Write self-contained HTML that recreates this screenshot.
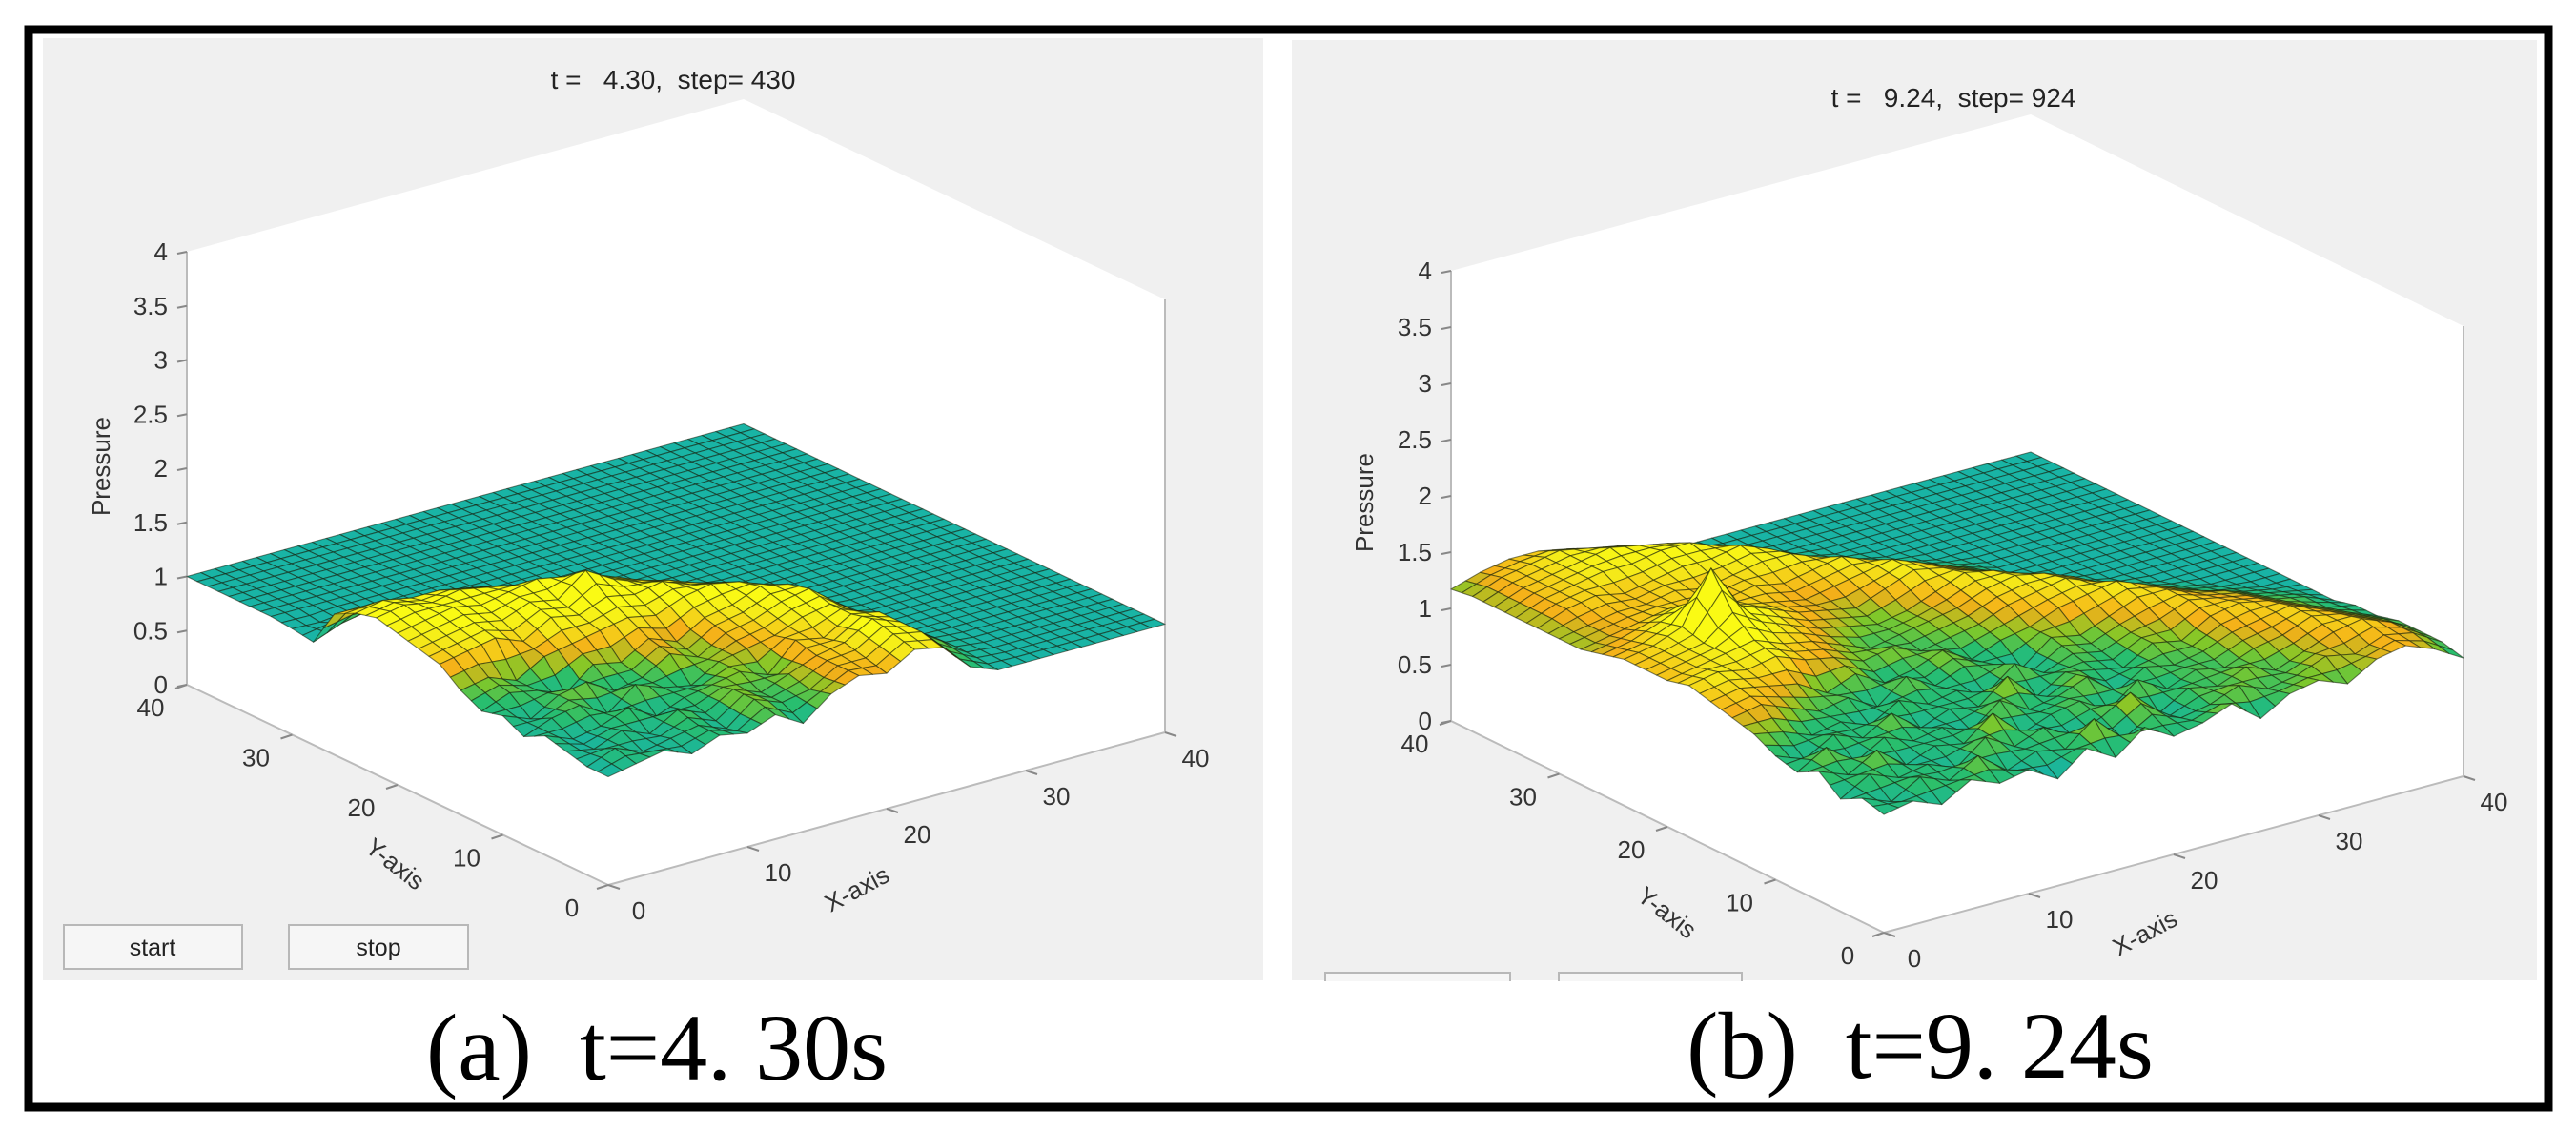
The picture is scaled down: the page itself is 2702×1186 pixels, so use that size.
<!DOCTYPE html>
<html><head><meta charset="utf-8"><style>
html,body{margin:0;padding:0;background:#fff;}
svg{display:block;font-family:"Liberation Sans",sans-serif;}
</style></head><body>
<svg id="fig" width="2702" height="1186" viewBox="0 0 2702 1186" xmlns="http://www.w3.org/2000/svg">
<rect x="0" y="0" width="2702" height="1186" fill="#fff"/>
<rect x="45" y="40" width="1280" height="988" fill="#f0f0f0"/>
<rect x="1355" y="42" width="1306" height="986" fill="#f0f0f0"/>
<g id="pa"></g>
<g id="pb"></g>
<text x="706" y="93" font-size="28" text-anchor="middle" fill="#222" xml:space="preserve">t =   4.30,  step= 430</text>
<text x="2049" y="112" font-size="28" text-anchor="middle" fill="#222" xml:space="preserve">t =   9.24,  step= 924</text>
<g><rect x="67" y="970" width="187" height="46" fill="#f6f6f6" stroke="#b8b8b8" stroke-width="2"/><text x="160" y="1002" font-size="25" text-anchor="middle" fill="#222">start</text></g>
<g><rect x="303" y="970" width="188" height="46" fill="#f6f6f6" stroke="#b8b8b8" stroke-width="2"/><text x="397" y="1002" font-size="25" text-anchor="middle" fill="#222">stop</text></g>
<g><rect x="1390" y="1020" width="194" height="12" fill="#f6f6f6" stroke="#b8b8b8" stroke-width="2"/></g>
<g><rect x="1635" y="1020" width="192" height="12" fill="#f6f6f6" stroke="#b8b8b8" stroke-width="2"/></g>
<rect x="1355" y="1029" width="1306" height="10" fill="#fff"/>
<text x="689" y="1132" font-size="100" text-anchor="middle" font-family="Liberation Serif, serif" fill="#000" xml:space="preserve">(a)  t=4. 30s</text>
<text x="2014" y="1130" font-size="100" text-anchor="middle" font-family="Liberation Serif, serif" fill="#000" xml:space="preserve">(b)  t=9. 24s</text>
<rect x="30" y="31" width="2643" height="1130" fill="none" stroke="#000" stroke-width="9"/>
</svg>
<script>
const zTicks = [0,0.5,1,1.5,2,2.5,3,3.5,4];
const zTickLabels = ["0","0.5","1","1.5","2","2.5","3","3.5","4"];
const xyTicks = [0,10,20,30,40];
const gridStep = 2;
const surfA = [
[1.0,1.05,1.1,1.0,1.1,1.05,1.15,1.0,1.2,1.3,1.25,1.4,1.35,1.1,1.0,1.0,1.0,1.0,1.0,1.0,1.0],
[1.0,1.1,1.0,1.05,1.1,1.0,1.2,1.1,1.15,1.3,1.3,1.45,1.4,1.15,1.02,1.0,1.0,1.0,1.0,1.0,1.0],
[1.05,1.0,1.1,1.0,1.15,1.05,1.2,1.1,1.2,1.3,1.35,1.5,1.4,1.2,1.03,1.0,1.0,1.0,1.0,1.0,1.0],
[1.1,1.0,1.05,1.15,1.0,1.1,1.15,1.2,1.1,1.35,1.3,1.45,1.4,1.15,1.02,1.0,1.0,1.0,1.0,1.0,1.0],
[1.0,1.1,1.15,1.0,1.2,1.1,1.05,1.2,1.25,1.3,1.4,1.45,1.3,1.1,1.0,1.0,1.0,1.0,1.0,1.0,1.0],
[1.1,1.0,1.15,1.2,1.05,1.1,1.25,1.15,1.3,1.35,1.45,1.5,1.3,1.1,1.0,1.0,1.0,1.0,1.0,1.0,1.0],
[1.05,1.15,1.1,1.0,1.2,1.15,1.3,1.2,1.35,1.4,1.5,1.45,1.25,1.05,1.0,1.0,1.0,1.0,1.0,1.0,1.0],
[1.15,1.2,1.1,1.25,1.3,1.35,1.4,1.35,1.45,1.5,1.45,1.35,1.15,1.02,1.0,1.0,1.0,1.0,1.0,1.0,1.0],
[1.3,1.35,1.4,1.3,1.45,1.4,1.5,1.45,1.5,1.4,1.35,1.2,1.05,1.0,1.0,1.0,1.0,1.0,1.0,1.0,1.0],
[1.35,1.4,1.45,1.4,1.5,1.45,1.65,1.5,1.4,1.35,1.25,1.1,1.0,1.0,1.0,1.0,1.0,1.0,1.0,1.0,1.0],
[1.4,1.45,1.5,1.45,1.5,1.55,1.5,1.45,1.35,1.25,1.15,1.05,1.0,1.0,1.0,1.0,1.0,1.0,1.0,1.0,1.0],
[1.45,1.5,1.45,1.5,1.45,1.4,1.35,1.3,1.2,1.1,1.02,1.0,1.0,1.0,1.0,1.0,1.0,1.0,1.0,1.0,1.0],
[1.4,1.45,1.4,1.4,1.35,1.3,1.2,1.1,1.05,1.0,1.0,1.0,1.0,1.0,1.0,1.0,1.0,1.0,1.0,1.0,1.0],
[1.3,1.3,1.25,1.2,1.15,1.1,1.05,1.0,1.0,1.0,1.0,1.0,1.0,1.0,1.0,1.0,1.0,1.0,1.0,1.0,1.0],
[0.95,1.05,1.1,1.05,1.0,1.0,1.0,1.0,1.0,1.0,1.0,1.0,1.0,1.0,1.0,1.0,1.0,1.0,1.0,1.0,1.0],
[0.98,0.97,1.0,1.0,1.0,1.0,1.0,1.0,1.0,1.0,1.0,1.0,1.0,1.0,1.0,1.0,1.0,1.0,1.0,1.0,1.0],
[1.0,1.0,1.0,1.0,1.0,1.0,1.0,1.0,1.0,1.0,1.0,1.0,1.0,1.0,1.0,1.0,1.0,1.0,1.0,1.0,1.0],
[1.0,1.0,1.0,1.0,1.0,1.0,1.0,1.0,1.0,1.0,1.0,1.0,1.0,1.0,1.0,1.0,1.0,1.0,1.0,1.0,1.0],
[1.0,1.0,1.0,1.0,1.0,1.0,1.0,1.0,1.0,1.0,1.0,1.0,1.0,1.0,1.0,1.0,1.0,1.0,1.0,1.0,1.0],
[1.0,1.0,1.0,1.0,1.0,1.0,1.0,1.0,1.0,1.0,1.0,1.0,1.0,1.0,1.0,1.0,1.0,1.0,1.0,1.0,1.0],
[1.0,1.0,1.0,1.0,1.0,1.0,1.0,1.0,1.0,1.0,1.0,1.0,1.0,1.0,1.0,1.0,1.0,1.0,1.0,1.0,1.0]
];
const surfB = [
[1.05,1.1,1.0,1.15,1.05,1.1,0.95,1.15,1.0,1.2,1.05,1.1,1.2,1.0,1.15,1.2,1.1,1.25,1.3,1.2,1.05],
[1.1,1.0,1.15,1.05,1.2,1.0,1.1,1.05,1.25,1.0,1.15,1.05,1.1,1.2,1.1,1.15,1.25,1.2,1.3,1.25,1.1],
[1.0,1.15,1.05,1.1,1.0,1.2,1.05,1.15,1.0,1.1,1.25,1.0,1.15,1.1,1.2,1.1,1.2,1.3,1.35,1.25,1.1],
[1.15,1.05,1.2,1.0,1.1,1.05,1.25,1.0,1.1,1.15,1.0,1.2,1.05,1.15,1.1,1.2,1.25,1.35,1.3,1.2,1.1],
[1.05,1.2,1.0,1.15,1.05,1.1,1.0,1.2,1.05,1.1,1.2,1.0,1.15,1.1,1.15,1.25,1.3,1.35,1.25,1.15,1.05],
[1.1,1.0,1.15,1.05,1.2,1.0,1.1,1.05,1.25,1.0,1.15,1.1,1.05,1.2,1.15,1.3,1.35,1.3,1.2,1.1,1.05],
[1.2,1.15,1.05,1.1,1.0,1.15,1.05,1.1,1.0,1.2,1.05,1.15,1.1,1.2,1.25,1.35,1.3,1.25,1.15,1.1,1.0],
[1.25,1.3,1.2,1.1,1.15,1.0,1.2,1.05,1.15,1.1,1.0,1.2,1.15,1.25,1.35,1.35,1.25,1.2,1.1,1.05,1.0],
[1.3,1.35,1.3,1.25,1.1,1.2,1.05,1.1,1.2,1.05,1.15,1.2,1.3,1.35,1.4,1.3,1.2,1.1,1.05,1.0,1.0],
[1.35,1.4,1.35,1.4,1.3,1.25,1.15,1.2,1.1,1.15,1.2,1.3,1.35,1.4,1.3,1.2,1.1,1.05,1.0,1.0,1.0],
[1.3,1.35,1.4,1.45,1.35,1.3,1.2,1.1,1.15,1.2,1.25,1.35,1.4,1.35,1.25,1.1,1.05,1.0,1.0,1.0,1.0],
[1.3,1.35,1.4,1.6,1.45,1.35,1.25,1.2,1.15,1.2,1.3,1.4,1.35,1.25,1.15,1.05,1.0,1.0,1.0,1.0,1.0],
[1.3,1.35,1.45,1.9,1.5,1.4,1.3,1.25,1.2,1.3,1.4,1.35,1.25,1.15,1.05,1.0,1.0,1.0,1.0,1.0,1.0],
[1.25,1.3,1.4,1.5,1.4,1.35,1.3,1.25,1.3,1.35,1.4,1.3,1.2,1.1,1.0,1.0,1.0,1.0,1.0,1.0,1.0],
[1.2,1.25,1.3,1.35,1.3,1.3,1.35,1.3,1.35,1.4,1.3,1.2,1.1,1.05,1.0,1.0,1.0,1.0,1.0,1.0,1.0],
[1.2,1.25,1.3,1.3,1.35,1.3,1.35,1.4,1.4,1.3,1.2,1.1,1.05,1.0,1.0,1.0,1.0,1.0,1.0,1.0,1.0],
[1.2,1.3,1.35,1.3,1.35,1.4,1.4,1.45,1.35,1.2,1.1,1.05,1.0,1.0,1.0,1.0,1.0,1.0,1.0,1.0,1.0],
[1.2,1.3,1.35,1.4,1.4,1.45,1.45,1.35,1.25,1.1,1.05,1.0,1.0,1.0,1.0,1.0,1.0,1.0,1.0,1.0,1.0],
[1.2,1.3,1.35,1.4,1.45,1.4,1.35,1.25,1.1,1.05,1.0,1.0,1.0,1.0,1.0,1.0,1.0,1.0,1.0,1.0,1.0],
[1.2,1.3,1.35,1.4,1.35,1.3,1.2,1.1,1.05,1.0,1.0,1.0,1.0,1.0,1.0,1.0,1.0,1.0,1.0,1.0,1.0],
[1.17,1.25,1.3,1.3,1.25,1.15,1.05,1.0,1.0,1.0,1.0,1.0,1.0,1.0,1.0,1.0,1.0,1.0,1.0,1.0,1.0]
];
const NS = "http://www.w3.org/2000/svg";
function mk(tag, attrs, parent){ const e=document.createElementNS(NS,tag); for(const k in attrs) e.setAttribute(k,attrs[k]); parent.appendChild(e); return e; }
const stops = [[0,[25,180,165]],[0.22,[40,190,110]],[0.4,[130,200,40]],[0.6,[245,175,25]],[0.85,[245,235,25]],[1,[250,250,20]]];
function colorOf(v){
  let t=Math.max(0,Math.min(1,(v-1.0)/0.45));
  for(let k=1;k<stops.length;k++){ if(t<=stops[k][0]){ const a=stops[k-1],b=stops[k]; const f=(t-a[0])/(b[0]-a[0]); const c=a[1].map((q,i)=>Math.round(q+(b[1][i]-q)*f)); return "rgb("+c.join(",")+")"; } }
  return "rgb(250,250,20)";
}
function drawPanel(g, P, surf, lab){
  const proj=(x,y,z)=>[P.ox+P.ex[0]*x+P.ey[0]*y, P.oy+P.ex[1]*x+P.ey[1]*y-P.ez*z];
  const pts=[[0,40,4],[40,40,4],[40,0,4],[40,0,0],[0,0,0],[0,40,0]].map(p=>proj(...p).join(",")).join(" ");
  const box=mk("polygon",{points:pts,fill:"#fff"},g);
  
  
  const lines=[[[0,40,0],[0,40,4]],[[0,0,0],[0,40,0]],[[0,0,0],[40,0,0]],[[40,0,0],[40,0,4]]];
  lines.forEach(l=>{ const a=proj(...l[0]),b=proj(...l[1]); const ln=mk("line",{x1:a[0],y1:a[1],x2:b[0],y2:b[1],stroke:"#bbb","stroke-width":2},g);
    
     });
  zTicks.forEach((z,i)=>{ const a=proj(0,40,z);
    const tk=mk("line",{x1:a[0],y1:a[1],x2:a[0]-10,y2:a[1]+2,stroke:"#888","stroke-width":2},g);
    
    
    const t=mk("text",{x:a[0]-20,y:a[1]+9,"font-size":26,"text-anchor":"end",fill:"#333"},g); t.textContent=zTickLabels[i];
    
     });
  xyTicks.forEach(v=>{
    const a=proj(0,v,0); const tk=mk("line",{x1:a[0],y1:a[1],x2:a[0]-12,y2:a[1]+4,stroke:"#888","stroke-width":2},g);
    
    
    const t=mk("text",{x:a[0]-38,y:a[1]+33,"font-size":26,"text-anchor":"middle",fill:"#333"},g); t.textContent=String(v);
    
    
    const b=proj(v,0,0); const tk2=mk("line",{x1:b[0],y1:b[1],x2:b[0]+12,y2:b[1]+4,stroke:"#888","stroke-width":2},g);
    
    
    const t2=mk("text",{x:b[0]+32,y:b[1]+36,"font-size":26,"text-anchor":"middle",fill:"#333"},g); t2.textContent=String(v);
    
    
  });
  const pl=mk("text",{x:lab.px,y:lab.py,"font-size":26,"text-anchor":"middle",fill:"#333",transform:"rotate(-90 "+lab.px+" "+lab.py+")"},g); pl.textContent="Pressure";
  
  
  const yl=mk("text",{x:lab.yx,y:lab.yy,"font-size":26,"text-anchor":"middle",fill:"#333",transform:"rotate(38 "+lab.yx+" "+lab.yy+")"},g); yl.textContent="Y-axis";
  
  
  const xl=mk("text",{x:lab.xx,y:lab.xy,"font-size":26,"text-anchor":"middle",fill:"#333",transform:"rotate(-28 "+lab.xx+" "+lab.xy+")"},g); xl.textContent="X-axis";
  
  
  const n=surf.length-1; const S=2; const cells=[];
  const zAt=(u,w)=>{ const i=Math.min(n-1,Math.floor(u)), j=Math.min(n-1,Math.floor(w)); const fu=u-i, fw=w-j;
    return surf[j][i]*(1-fu)*(1-fw)+surf[j][i+1]*fu*(1-fw)+surf[j+1][i]*(1-fu)*fw+surf[j+1][i+1]*fu*fw; };
  for(let j=0;j<n*S;j++) for(let i=0;i<n*S;i++) cells.push([i,j]);
  cells.sort((a,b)=>(b[0]+b[1])-(a[0]+a[1]));
  const sg=mk("g",{},g);
  
  
  cells.forEach(([i,j])=>{
    const c=[[i,j],[i+1,j],[i+1,j+1],[i,j+1]];
    let sum=0; const p=c.map(([a,b])=>{ const u=a/S,w=b/S; const z=zAt(u,w); sum+=z; return proj(u*gridStep,w*gridStep,z).map(v=>v.toFixed(1)).join(","); }).join(" ");
    const q=mk("polygon",{points:p,fill:colorOf(sum/4),stroke:"rgba(20,30,10,0.55)","stroke-width":1.1,"stroke-linejoin":"round"},sg);
    
    
  });
}
drawPanel(document.getElementById("pa"),{ox:638,oy:928,ex:[14.6,-4.0],ey:[-11.05,-5.25],ez:113.5},surfA,{px:115,py:489,yx:409,yy:913,xx:903,xy:940});
drawPanel(document.getElementById("pb"),{ox:1976,oy:978,ex:[15.2,-4.1],ey:[-11.35,-5.55],ez:118},surfB,{px:1440,py:527,yx:1743,yy:964,xx:2254,xy:986});
</script>
</body></html>
